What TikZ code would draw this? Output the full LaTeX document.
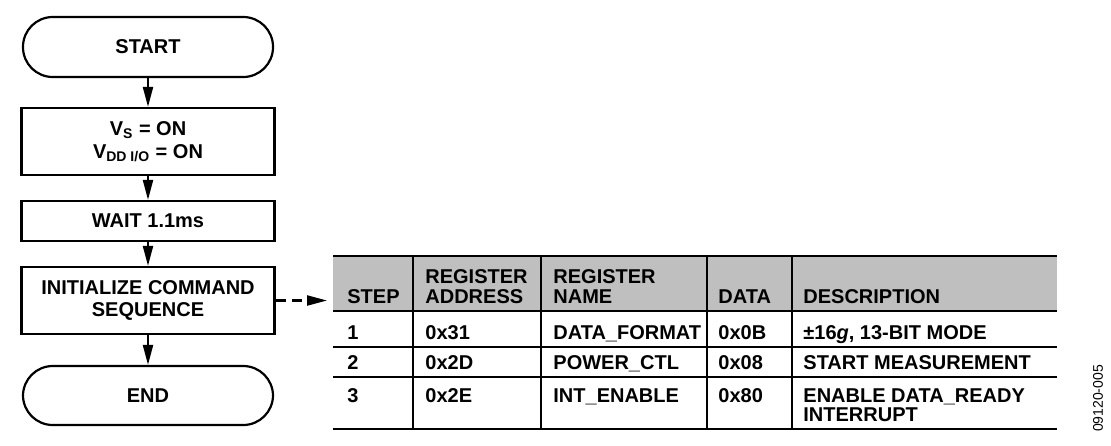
\documentclass[tikz,border=0pt]{standalone}
\usepackage{fontspec}
\setmainfont{Liberation Sans}
\usetikzlibrary{positioning,arrows.meta}

\begin{document}
\begin{tikzpicture}[x=0.5pt,y=-0.5pt,>={Triangle[length=10pt,width=5pt]},
  every node/.style={font=\bfseries\fontsize{10}{11.3}\selectfont,align=center},
  term/.style={draw,line width=1.1pt,rounded corners=14.9pt,
    minimum width=125pt,minimum height=30pt},
  box/.style={draw,line width=1.1pt,minimum width=126.5pt},
  cell/.style={anchor=base west,inner sep=0pt},
  rule/.style={line width=1pt}]
\useasboundingbox (0,0) rectangle (1111,445);

% flow chart
\node[term] (start) at (148,47) {START};
\node[box,minimum height=33.5pt] (power) at (148,141.5)
      {V\textsubscript{S} = ON\\V\textsubscript{DD I/O} = ON};
\node[box,minimum height=20pt] (wait) at (148,221) {WAIT 1.1ms};
\node[box,minimum height=33.5pt] (init) at (148,300.5)
      {INITIALIZE COMMAND\\SEQUENCE};
\node[term,minimum height=29.5pt] (end) at (148,395.5) {END};

\draw[->,line width=1.1pt] (start) -- (power);
\draw[->,line width=1.1pt] (power) -- (wait);
\draw[->,line width=1.1pt] (wait) -- (init);
\draw[->,line width=1.1pt] (init) -- (end);

% register table
\coordinate (tblin) at (327,300.5);
\draw[->,line width=1.1pt,dash pattern=on 5pt off 3pt] (init.east) -- (tblin);

\fill[black!25] (333,256) rectangle (1057,311);
\draw[rule] (333,256) -- (1057,256);
\draw[rule] (333,311) -- (1057,311);
\draw[rule] (333,347) -- (1057,347);
\draw[rule] (333,377) -- (1057,377);
\draw[rule] (333,429) -- (1057,429);
\foreach \x in {413,541,707,792}
  \draw[rule] (\x,256) -- (\x,429);

\node[cell] (hstep) at (347,303) {STEP};
\node[cell] (haddr1) at (425,283) {REGISTER};
\node[cell] (haddr2) at (425,303) {ADDRESS};
\node[cell] (hname1) at (553,283) {REGISTER};
\node[cell] (hname2) at (553,303) {NAME};
\node[cell] (hdata) at (718,303) {DATA};
\node[cell] (hdesc) at (803,303) {DESCRIPTION};

\node[cell] (step1) at (347,339) {1};
\node[cell] (addr1) at (425,339) {0x31};
\node[cell] (name1) at (553,339) {DATA\_FORMAT};
\node[cell] (data1) at (718,339) {0x0B};
\node[cell] (desc1) at (803,339) {±16\textit{g}, 13-BIT MODE};

\node[cell] (step2) at (347,369) {2};
\node[cell] (addr2) at (425,369) {0x2D};
\node[cell] (name2) at (553,369) {POWER\_CTL};
\node[cell] (data2) at (718,369) {0x08};
\node[cell] (desc2) at (803,369) {START MEASUREMENT};

\node[cell] (step3) at (347,402) {3};
\node[cell] (addr3) at (425,402) {0x2E};
\node[cell] (name3) at (553,402) {INT\_ENABLE};
\node[cell] (data3) at (718,402) {0x80};
\node[cell] (desc3a) at (803,402) {ENABLE DATA\_READY};
\node[cell] (desc3b) at (803,421) {INTERRUPT};

\node[rotate=90,font=\fontsize{7}{8}\selectfont] (figno) at (1098,398.5) {09120-005};
\end{tikzpicture}
\end{document}
